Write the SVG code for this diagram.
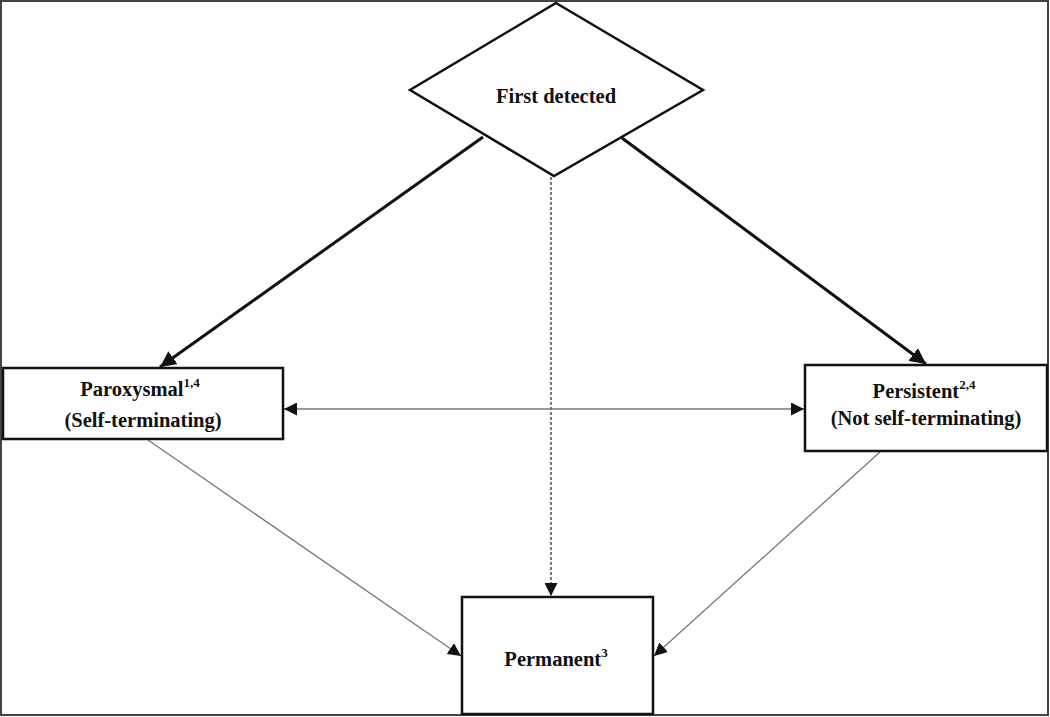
<svg xmlns="http://www.w3.org/2000/svg" width="1050" height="717" viewBox="0 0 1050 717">
<style>
.node{fill:#fff;stroke:#111;stroke-width:2.5}
.lbl{font-family:"Liberation Serif",serif;font-weight:bold;font-size:20.5px;fill:#111;text-anchor:middle}
.sup{font-size:13px}
.thick{stroke:#111;stroke-width:3;fill:none}
.thin{stroke:#777;stroke-width:1.3;fill:none}
.dash{stroke:#777;stroke-width:2;stroke-dasharray:3 2;fill:none}
</style>
<defs>
<marker id="ahs" viewBox="0 0 10 10" refX="10" refY="5" markerWidth="13" markerHeight="13" markerUnits="userSpaceOnUse" orient="auto-start-reverse">
<path d="M0,0 L10,5 L0,10 z" fill="#111"/>
</marker>
<marker id="ahd" viewBox="0 0 10 10" refX="10" refY="5" markerWidth="16" markerHeight="16" markerUnits="userSpaceOnUse" orient="auto-start-reverse">
<path d="M0,0 L10,5 L0,10 z" fill="#111"/>
</marker>
</defs>
<rect x="0" y="0" width="1050" height="717" fill="#fff"/>
<rect x="1" y="1" width="1047" height="714" fill="none" stroke="#444" stroke-width="2"/>
<g id="connectors">
<line class="thick" x1="483" y1="137" x2="160" y2="367" marker-end="url(#ahd)"/>
<line class="thick" x1="622" y1="138" x2="926" y2="364" marker-end="url(#ahd)"/>
<line class="dash" x1="551" y1="177" x2="551" y2="596" marker-end="url(#ahs)"/>
<line class="thin" x1="284" y1="409" x2="804" y2="409" marker-start="url(#ahs)" marker-end="url(#ahs)"/>
<line class="thin" x1="148" y1="440" x2="461" y2="656" marker-end="url(#ahs)"/>
<line class="thin" x1="880" y1="452" x2="654" y2="656" marker-end="url(#ahs)"/>
</g>
<g id="first-detected">
<polygon class="node" points="556,3 703,90 554,176 410,90"/>
<text class="lbl" x="556" y="103">First detected</text>
</g>
<g id="paroxysmal">
<rect class="node" x="3" y="368" width="280" height="71"/>
<text class="lbl" x="140" y="396">Paroxysmal<tspan class="sup" dy="-9">1,4</tspan></text>
<text class="lbl" x="143" y="427">(Self-terminating)</text>
</g>
<g id="persistent">
<rect class="node" x="805" y="365" width="242" height="86"/>
<text class="lbl" x="924" y="398">Persistent<tspan class="sup" dy="-9">2,4</tspan></text>
<text class="lbl" x="926" y="425">(Not self-terminating)</text>
</g>
<g id="permanent">
<rect class="node" x="462" y="597" width="191" height="117"/>
<text class="lbl" x="556" y="666">Permanent<tspan class="sup" dy="-9">3</tspan></text>
</g>
</svg>
